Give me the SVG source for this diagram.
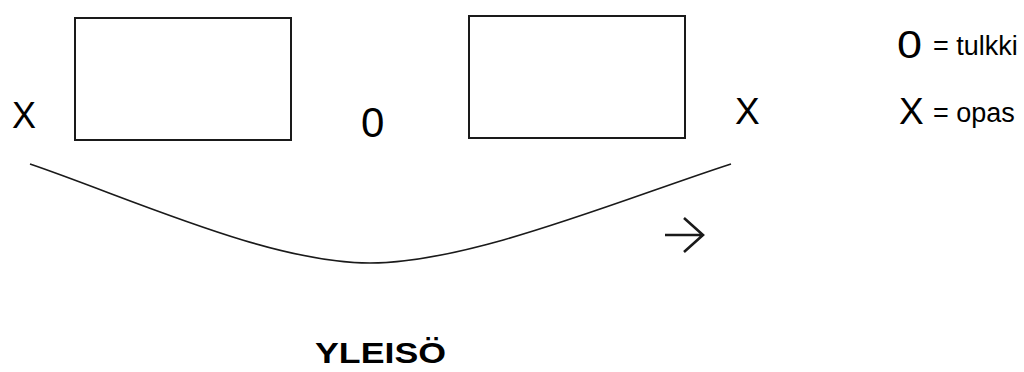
<svg xmlns="http://www.w3.org/2000/svg" width="1024" height="372" viewBox="0 0 1024 372">
  <style>
    .box { fill: #ffffff; stroke: #1a1a1a; stroke-width: 2; }
    .line { fill: none; stroke: #1a1a1a; stroke-width: 1.6; }
    .arrow { fill: none; stroke: #1a1a1a; stroke-width: 2.6; }
    .mark { font-family: "Liberation Sans", Arial, sans-serif; fill: #000000; }
    .key { font-family: "Liberation Sans", Arial, sans-serif; font-size: 27px; fill: #000000; }
    .title { font-family: "Liberation Sans", Arial, sans-serif; font-weight: bold; font-size: 30px; fill: #000000; }
  </style>
  <rect width="1024" height="372" fill="#ffffff"/>

  <!-- audience curve and direction arrow -->
  <g id="connectors">
    <path class="line" d="M30,164 C130,198 270,263 370,263 C470,263 620,200 731,164"/>
    <path class="arrow" d="M665,235 H703 M684,218 L703,235 L684,252"/>
  </g>

  <g id="box-left">
    <rect class="box" x="75" y="18" width="216" height="122"/>
  </g>
  <g id="box-right">
    <rect class="box" x="469" y="16" width="216" height="122"/>
  </g>

  <g id="guide-left">
    <text class="mark" x="12" y="128" font-size="36">X</text>
  </g>
  <g id="interpreter">
    <text class="mark" x="361" y="137" font-size="42">0</text>
  </g>
  <g id="guide-right">
    <text class="mark" x="735" y="124" font-size="37">X</text>
  </g>

  <g id="legend">
    <text class="mark" x="897" y="58" font-size="39" textLength="25" lengthAdjust="spacingAndGlyphs">0</text>
    <text class="key" x="933" y="55">= tulkki</text>
    <text class="mark" x="899" y="124" font-size="37">X</text>
    <text class="key" x="933" y="122">= opas</text>
  </g>

  <g id="audience">
    <text class="title" x="315" y="363" textLength="131" lengthAdjust="spacingAndGlyphs">YLEISÖ</text>
  </g>
</svg>
